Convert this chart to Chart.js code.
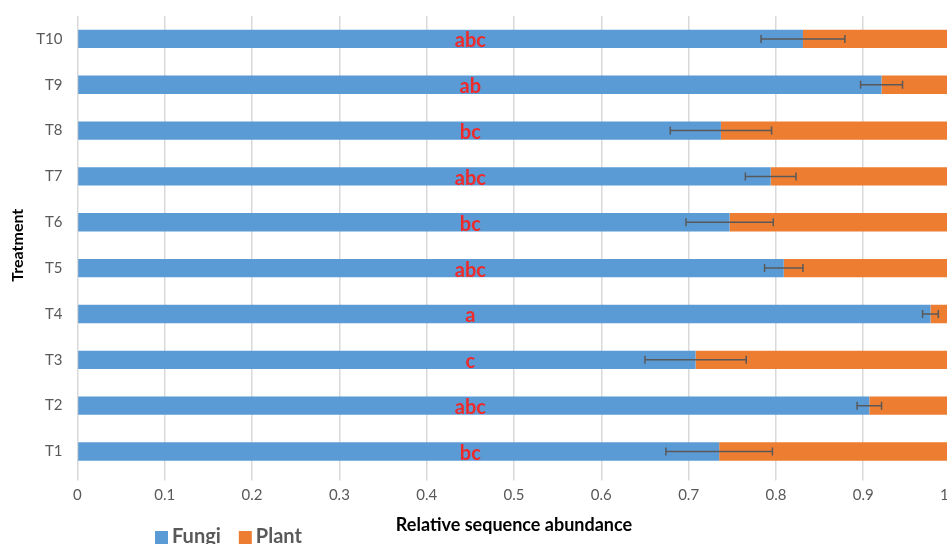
<!DOCTYPE html>
<html>
<head>
<meta charset="utf-8">
<script src="https://cdn.jsdelivr.net/npm/chart.js@4"></script>
<style>
  html, body { margin: 0; padding: 0; background: #fff; overflow: hidden; }
  #wrap { position: absolute; left: 0; top: 0; width: 967px; height: 544px; }
</style>
</head>
<body>
<div id="wrap"><canvas id="myChart"></canvas></div>
<script>
const treatments = ['T1', 'T2', 'T3', 'T4', 'T5', 'T6', 'T7', 'T8', 'T9', 'T10'];
const fungi = [0.735, 0.907, 0.708, 0.977, 0.809, 0.747, 0.794, 0.737, 0.921, 0.831];
const plant = [0.265, 0.093, 0.292, 0.023, 0.191, 0.253, 0.206, 0.263, 0.079, 0.169];
const fungiErr = [0.061, 0.014, 0.058, 0.009, 0.022, 0.050, 0.029, 0.058, 0.024, 0.048];
const letters = ['bc', 'abc', 'c', 'a', 'abc', 'bc', 'abc', 'bc', 'ab', 'abc'];
const letterPos = 0.45;
const xTicks = [0, 0.1, 0.2, 0.3, 0.4, 0.5, 0.6, 0.7, 0.8, 0.9, 1];

const ctx = document.getElementById('myChart');
const fontFamily = 'Lato, "Open Sans", sans-serif';

// error bars on the end of the fungi bar, red significance letters, and the legend
const extras = {
    id: 'extras',
    afterDatasetsDraw(chart) {
        const x = chart.scales.x;
        const y = chart.scales.y;
        const c = chart.ctx;
        c.save();
        c.strokeStyle = '#595959';
        c.lineWidth = 1.5;
        for (let i = 0; i < fungi.length; i++) {
            const yp = y.getPixelForValue(i);
            const x1 = x.getPixelForValue(fungi[i] - fungiErr[i]);
            const x2 = x.getPixelForValue(fungi[i] + fungiErr[i]);
            c.beginPath();
            c.moveTo(x1, yp); c.lineTo(x2, yp);
            c.moveTo(x1, yp - 4); c.lineTo(x1, yp + 4);
            c.moveTo(x2, yp - 4); c.lineTo(x2, yp + 4);
            c.stroke();
        }
        c.fillStyle = '#ee2a2a';
        c.font = 'bold 20px ' + fontFamily;
        c.textAlign = 'center';
        c.textBaseline = 'middle';
        for (let i = 0; i < letters.length; i++) {
            c.fillText(letters[i], x.getPixelForValue(letterPos), y.getPixelForValue(i) + 2);
        }

        // legend, below the axis at the left
        let lx = 155;
        const ly = 537;
        c.font = 'bold 20px ' + fontFamily;
        c.textAlign = 'left';
        chart.data.datasets.forEach(ds => {
            c.fillStyle = ds.backgroundColor;
            c.fillRect(lx, ly - 6, 13, 13);
            c.fillStyle = '#595959';
            c.fillText(ds.label, lx + 17, ly);
            lx += 17 + c.measureText(ds.label).width + 18;
        });
        c.restore();
    }
};

const data = {
    labels: treatments,
    datasets: [{
        label: 'Fungi',
        data: fungi,
        backgroundColor: '#5b9bd5',
        barPercentage: 0.8,
        categoryPercentage: 0.5,
    }, {
        label: 'Plant',
        data: plant,
        backgroundColor: '#ed7d31',
        barPercentage: 0.8,
        categoryPercentage: 0.5,
    }],
};

const config = {
    type: 'bar',
    data: data,
    options: {
        indexAxis: 'y',
        responsive: true,
        maintainAspectRatio: false,
        animation: false,
        layout: { padding: { left: 6, top: 1, right: 0, bottom: 0 } },
        plugins: {
            legend: { display: false },
            tooltip: { enabled: false },
        },
        scales: {
            x: {
                stacked: true,
                min: 0,
                max: 1,
                afterBuildTicks: (axis) => { axis.ticks = xTicks.map(v => ({ value: v })); },
                grid: { color: '#d9d9d9', lineWidth: 1.5, drawTicks: true, tickLength: 6 },
                border: { display: false },
                ticks: {
                    color: '#595959',
                    padding: 6,
                    maxRotation: 0,
                    font: { family: fontFamily, size: 15 },
                },
                title: {
                    display: true,
                    text: 'Relative sequence abundance',
                    color: '#000',
                    padding: { top: 4, bottom: 8 },
                    font: { family: fontFamily, size: 18, weight: 'bold' },
                },
            },
            y: {
                stacked: true,
                reverse: true,
                grid: { display: false },
                border: { display: false },
                ticks: {
                    color: '#595959',
                    padding: 7,
                    font: { family: fontFamily, size: 15 },
                },
                title: {
                    display: true,
                    text: 'Treatment',
                    color: '#000',
                    padding: 2,
                    font: { family: fontFamily, size: 16, weight: 'bold' },
                },
            },
        },
    },
    plugins: [extras],
};

const myChart = new Chart(ctx, config);
</script>
</body>
</html>
